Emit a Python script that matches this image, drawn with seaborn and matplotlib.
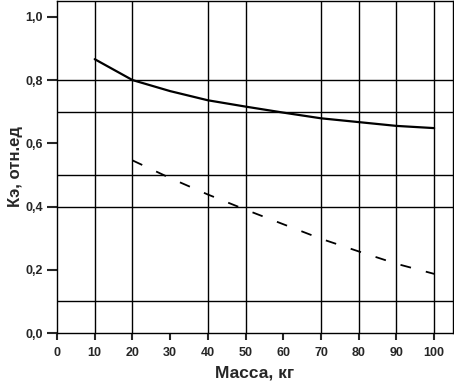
import numpy as np
import pandas as pd
import matplotlib
matplotlib.use("Agg")
import matplotlib.pyplot as plt
import seaborn as sns
from matplotlib.ticker import FuncFormatter

# data
mass_solid = [10, 20, 30, 40, 50, 60, 70, 80, 90, 100]
ke_solid = [0.866, 0.800, 0.765, 0.736, 0.716, 0.697, 0.679, 0.667, 0.655, 0.648]
mass_dashed = [20, 30, 40, 50, 60, 70, 80, 90, 100]
ke_dashed = [0.546, 0.490, 0.438, 0.390, 0.344, 0.298, 0.258, 0.219, 0.187]

x_ticks = [0, 10, 20, 30, 40, 50, 60, 70, 80, 90, 100]
y_ticks = [0.0, 0.2, 0.4, 0.6, 0.8, 1.0]
grid_x = [10, 20, 40, 50, 70, 80, 90, 100]
grid_y = [0.1, 0.4, 0.5, 0.7, 0.8]

sns.set_style("ticks")
plt.rcParams['font.family'] = ['Liberation Sans', 'DejaVu Sans']

df_solid = pd.DataFrame({'mass': mass_solid, 'ke': ke_solid})
df_dashed = pd.DataFrame({'mass': mass_dashed, 'ke': ke_dashed})

fig = plt.figure(figsize=(4.54, 3.81), dpi=100)
ax = fig.add_axes([57 / 454, 48 / 381, 396 / 454, 332 / 381])

for gx in grid_x:
    ax.axvline(gx, color='black', lw=1.0, zorder=1)
for gy in grid_y:
    ax.axhline(gy, color='black', lw=1.0, zorder=1)

sns.lineplot(data=df_solid, x='mass', y='ke', color='black', lw=1.6, ax=ax, zorder=3)
sns.lineplot(data=df_dashed, x='mass', y='ke', color='black', lw=1.3, ax=ax, zorder=3)
ax.lines[-1].set_dashes((6, 8.5))

ax.set_xlim(0, 105)
ax.set_ylim(0, 1.05)
ax.set_xticks(x_ticks)
ax.set_yticks(y_ticks)
ax.yaxis.set_major_formatter(FuncFormatter(lambda v, p: f'{v:.1f}'.replace('.', ',')))

for s in ax.spines.values():
    s.set_color('black')
    s.set_linewidth(1.0)

ax.tick_params(axis='y', length=7, width=1.5, direction='out', pad=3, labelsize=9)
ax.tick_params(axis='x', length=5, width=1.5, direction='out', pad=5, labelsize=9)
for lab in ax.get_xticklabels() + ax.get_yticklabels():
    lab.set_fontweight('bold')

ax.set_xlabel('Масса, кг', fontsize=12.5, fontweight='bold', labelpad=5)
ax.set_ylabel('Кэ, отн.ед', fontsize=12, fontweight='bold', labelpad=2)

fig.savefig('out.png', dpi=100)
